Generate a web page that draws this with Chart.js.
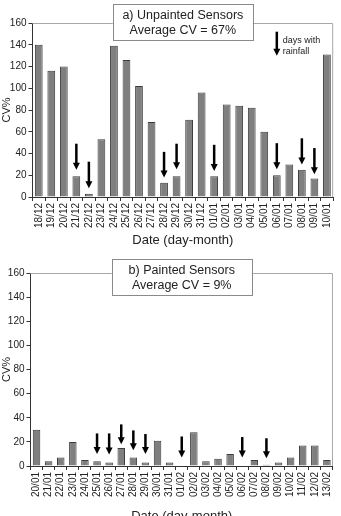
<!DOCTYPE html>
<html>
<head>
<meta charset="utf-8">
<script src="https://cdn.jsdelivr.net/npm/chart.js@4.4.0/dist/chart.umd.min.js"></script>
<style>
    html, body { margin: 0; padding: 0; background: #fff; overflow: hidden; }
    canvas { position: absolute; left: 0; }
    #chartTop { top: 0; }
    #chartBottom { top: 258px; }
</style>
</head>
<body>
<canvas id="chartTop" width="341" height="258"></canvas>
<canvas id="chartBottom" width="341" height="270"></canvas>
<script>
// Unpainted sensors (18/12 - 10/01)
const topDates = ['18/12','19/12','20/12','21/12','22/12','23/12','24/12','25/12','26/12','27/12','28/12','29/12','30/12','31/12',
                  '01/01','02/01','03/01','04/01','05/01','06/01','07/01','08/01','09/01','10/01'];
const topCV = [140, 116, 120, 19, 3, 53, 139, 126, 102, 69, 13, 19, 71, 96, 19, 85, 84, 82, 60, 20, 30, 25, 17, 131];
// days with rainfall: arrow tail and tip values (CV%)
const topRainDays = ['21/12','22/12','28/12','29/12','01/01','06/01','08/01','09/01'];
const topArrowFrom = [49, 32.5, 41.5, 49, 48, 49.5, 54, 45];
const topArrowTo = [25, 8, 18, 25.5, 24, 25.5, 30, 21];

// Painted sensors (20/01 - 13/02)
const bottomDates = ['20/01','21/01','22/01','23/01','24/01','25/01','26/01','27/01','28/01','29/01','30/01','31/01',
                     '01/02','02/02','03/02','04/02','05/02','06/02','07/02','08/02','09/02','10/02','11/02','12/02','13/02'];
const bottomCV = [30, 4, 7, 20, 5, 4, 3, 15, 7, 3, 21, 3, 0, 28, 4, 6, 10, 0, 5, 1, 3, 7, 17, 17, 5];
const bottomRainDays = ['25/01','26/01','27/01','28/01','29/01','01/02','06/02','08/02'];
const bottomArrowFrom = [27, 27, 34.5, 29.5, 26.5, 24.5, 24, 23];
const bottomArrowTo = [10, 9.5, 18, 13, 10, 7, 7, 6.5];

// legend arrow in the top chart
const legendDay = '06/01';
const legendFrom = 152;
const legendTo = 130;

const yTicks = [0, 20, 40, 60, 80, 100, 120, 140, 160];

const FONT = '"Liberation Sans", Arial, sans-serif';
const TEXT = '#222';

function drawArrow(ctx, px, yTail, yTip) {
    ctx.lineWidth = 2.5;
    ctx.beginPath();
    ctx.moveTo(px, yTail);
    ctx.lineTo(px, yTip - 5);
    ctx.stroke();
    ctx.beginPath();
    ctx.moveTo(px - 3.5, yTip - 7);
    ctx.lineTo(px + 3.5, yTip - 7);
    ctx.lineTo(px, yTip);
    ctx.closePath();
    ctx.fill();
}

const rainArrows = {
    id: 'rainArrows',
    afterDatasetsDraw(chart, args, opts) {
        const ctx = chart.ctx;
        const x = chart.scales.x, y = chart.scales.y;
        ctx.save();
        ctx.strokeStyle = '#000';
        ctx.fillStyle = '#000';
        opts.days.forEach((day, i) => {
            const px = x.getPixelForValue(opts.labels.indexOf(day));
            drawArrow(ctx, px, y.getPixelForValue(opts.from[i]), y.getPixelForValue(opts.to[i]));
        });
        if (opts.legend) {
            const px = x.getPixelForValue(opts.labels.indexOf(opts.legend.day));
            const y1 = y.getPixelForValue(opts.legend.from);
            const y2 = y.getPixelForValue(opts.legend.to);
            drawArrow(ctx, px, y1, y2);
            ctx.font = '9px ' + FONT;
            ctx.fillStyle = TEXT;
            ctx.textBaseline = 'middle';
            ctx.textAlign = 'left';
            ctx.fillText('days with', px + 6, y1 + 8.5);
            ctx.fillText('rainfall', px + 6, y1 + 20);
        }
        ctx.restore();
    }
};

const frame = {
    id: 'frame',
    beforeDatasetsDraw(chart) {
        const {ctx, chartArea: a} = chart;
        ctx.save();
        ctx.strokeStyle = '#a8a8a8';
        ctx.lineWidth = 1;
        ctx.beginPath();
        ctx.moveTo(a.left, a.top + 0.5);
        ctx.lineTo(a.right - 0.5, a.top + 0.5);
        ctx.lineTo(a.right - 0.5, a.bottom);
        ctx.stroke();
        ctx.restore();
    }
};

const titleBox = {
    id: 'titleBox',
    afterDraw(chart, args, opts) {
        const {ctx, chartArea: a} = chart;
        const cx = (a.left + a.right) / 2;
        const w = 140, h = 36;
        const top = a.top + opts.offset;
        ctx.save();
        ctx.fillStyle = '#fff';
        ctx.fillRect(cx - w / 2, top, w, h);
        ctx.strokeStyle = '#8a8a8a';
        ctx.lineWidth = 1;
        ctx.strokeRect(Math.round(cx - w / 2) + 0.5, Math.round(top) + 0.5, w, h);
        ctx.fillStyle = TEXT;
        ctx.font = '12.5px ' + FONT;
        ctx.textAlign = 'center';
        ctx.textBaseline = 'middle';
        ctx.fillText(opts.lines[0], cx, top + 12);
        ctx.fillText(opts.lines[1], cx, top + 27);
        ctx.restore();
    }
};

function makeChart(id, labels, values, arrows, box, dims) {
    const ctx = document.getElementById(id).getContext('2d');
    return new Chart(ctx, {
        type: 'bar',
        data: {
            labels: labels,
            datasets: [{
                data: values,
                backgroundColor: '#7f7f7f',
                borderColor: '#3c3c3c',
                borderWidth: 1,
                barPercentage: 0.62,
                categoryPercentage: 1
            }]
        },
        options: {
            responsive: false,
            animation: false,
            layout: { padding: { top: dims.top, right: 4, left: 0, bottom: 0 } },
            plugins: {
                legend: { display: false },
                tooltip: { enabled: false },
                rainArrows: arrows,
                titleBox: box
            },
            scales: {
                x: {
                    afterFit(scale) { scale.height = dims.xHeight; },
                    grid: { drawOnChartArea: false, drawTicks: true, tickLength: 4, color: '#333', offset: true },
                    border: { display: true, color: '#333', width: 1 },
                    ticks: {
                        autoSkip: false, maxRotation: 90, minRotation: 90, padding: 2,
                        color: TEXT, font: { family: FONT, size: 10 }
                    },
                    title: {
                        display: true, text: 'Date (day-month)', color: TEXT,
                        font: { family: FONT, size: 13 },
                        padding: { top: 0, bottom: dims.titlePad }
                    }
                },
                y: {
                    min: 0, max: 160,
                    afterFit(scale) { scale.width = dims.yWidth; },
                    afterBuildTicks(scale) { scale.ticks = yTicks.map(v => ({ value: v })); },
                    grid: { drawOnChartArea: false, drawTicks: true, tickLength: 4, color: '#333' },
                    border: { display: true, color: '#333', width: 1 },
                    ticks: { padding: 2, color: TEXT, font: { family: FONT, size: 10 } },
                    title: {
                        display: true, text: 'CV%', color: TEXT,
                        font: { family: FONT, size: 11 },
                        padding: { top: 0, bottom: 0 }
                    }
                }
            }
        },
        plugins: [frame, rainArrows, titleBox]
    });
}

makeChart('chartTop', topDates, topCV,
    { labels: topDates, days: topRainDays, from: topArrowFrom, to: topArrowTo,
      legend: { day: legendDay, from: legendFrom, to: legendTo } },
    { offset: -19, lines: ['a) Unpainted Sensors', 'Average CV = 67%'] },
    { top: 23, xHeight: 61, yWidth: 32.5, titlePad: 10 });

makeChart('chartBottom', bottomDates, bottomCV,
    { labels: bottomDates, days: bottomRainDays, from: bottomArrowFrom, to: bottomArrowTo },
    { offset: -14, lines: ['b) Painted Sensors', 'Average CV = 9%'] },
    { top: 15, xHeight: 62, yWidth: 30.5, titlePad: 4 });
</script>
</body>
</html>
